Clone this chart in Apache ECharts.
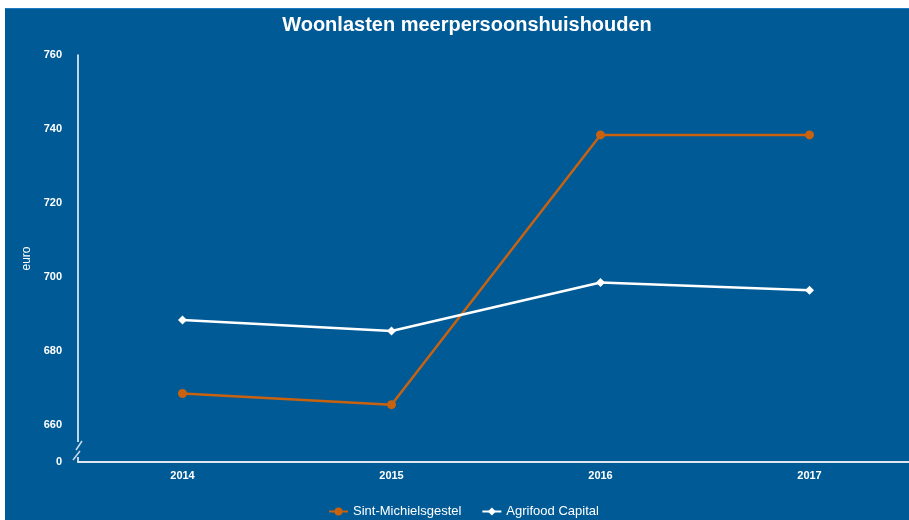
<!DOCTYPE html>
<html>
<head>
<meta charset="utf-8">
<script src="https://cdn.jsdelivr.net/npm/echarts@6/dist/echarts.min.js"></script>
<style>
html,body{margin:0;padding:0;background:#ffffff;overflow:hidden;width:909px;height:520px;}
#chart{position:absolute;left:5px;top:8px;width:911px;height:512px;border-top:1px solid #1a7ac4;box-sizing:border-box;}
</style>
</head>
<body>
<div id="chart"></div>
<script>
var categories = ['2014', '2015', '2016', '2017'];
var sintMichielsgestel = [668.5, 665.5, 738.4, 738.4];
var agrifoodCapital = [688.4, 685.4, 698.5, 696.4];
var yTickLabels = {650: '0', 660: '660', 680: '680', 700: '700', 720: '720', 740: '740', 760: '760'};

var chart = echarts.init(document.getElementById('chart'), null, {renderer: 'canvas'});
var font = 'Liberation Sans, Arial, sans-serif';
var bg = '#005a96';
chart.setOption({
  backgroundColor: bg,
  animation: false,
  textStyle: {fontFamily: font},
  title: {
    text: 'Woonlasten meerpersoonshuishouden',
    left: 457, top: 1, textAlign: 'center',
    textStyle: {color: '#ffffff', fontSize: 20, fontWeight: 'bold', fontFamily: font}
  },
  legend: {
    top: 491, left: 318, itemGap: 20, itemWidth: 19, itemHeight: 10,
    textStyle: {color: '#ffffff', fontSize: 13, fontFamily: font},
    data: ['Sint-Michielsgestel', 'Agrifood Capital']
  },
  grid: {left: 73, top: 46, height: 407, right: 2, containLabel: false},
  xAxis: {
    type: 'category', data: categories, boundaryGap: true,
    axisLine: {lineStyle: {color: '#dfe6ee', width: 2}},
    axisTick: {show: false},
    axisLabel: {color: '#ffffff', fontWeight: 'bold', fontSize: 11, margin: 8, fontFamily: font},
    splitLine: {show: false}
  },
  yAxis: {
    type: 'value', min: 650, max: 760, interval: 10,
    name: 'euro', nameLocation: 'middle', nameGap: 41, nameRotate: 90,
    nameTextStyle: {color: '#ffffff', fontSize: 12, fontFamily: font},
    axisLine: {show: true, lineStyle: {color: '#ffffff', width: 1.5}},
    axisTick: {show: false},
    splitLine: {show: false},
    axisLabel: {
      color: '#ffffff', fontWeight: 'bold', fontSize: 11, margin: 16, fontFamily: font,
      formatter: function (v) { return yTickLabels[v] !== undefined ? yTickLabels[v] : ''; }
    }
  },
  graphic: [
    {type: 'rect', z: 100, shape: {x: 71, y: 433, width: 6, height: 15}, style: {fill: bg}},
    {type: 'line', z: 101, shape: {x1: 71, y1: 441, x2: 77, y2: 432}, style: {stroke: '#c9dbeb', lineWidth: 1.5}},
    {type: 'line', z: 101, shape: {x1: 68, y1: 451, x2: 75, y2: 442}, style: {stroke: '#c9dbeb', lineWidth: 1.5}}
  ],
  series: [
    {
      name: 'Sint-Michielsgestel', type: 'line', data: sintMichielsgestel,
      symbol: 'circle', symbolSize: 9,
      itemStyle: {color: '#c8620f'},
      lineStyle: {color: '#c8620f', width: 2.5}
    },
    {
      name: 'Agrifood Capital', type: 'line', data: agrifoodCapital,
      symbol: 'diamond', symbolSize: 9,
      itemStyle: {color: '#ffffff'},
      lineStyle: {color: '#ffffff', width: 2.5}
    }
  ]
});
</script>
</body>
</html>
